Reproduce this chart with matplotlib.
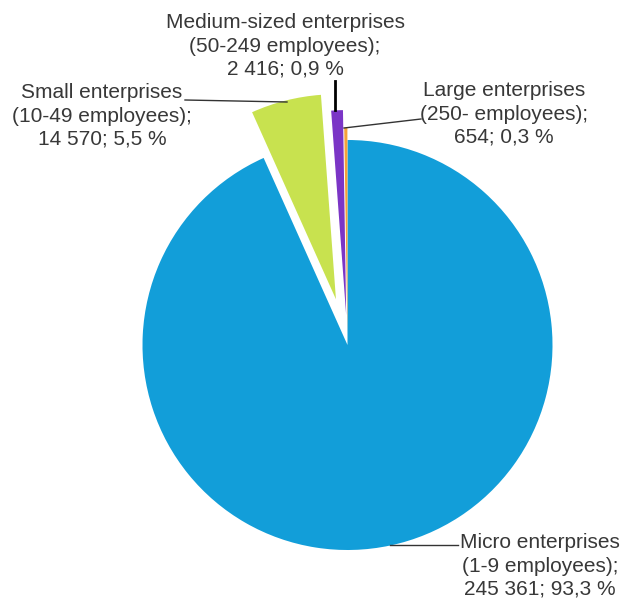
import matplotlib.pyplot as plt

plt.rcParams['font.family'] = ['Liberation Sans', 'DejaVu Sans']

# enterprises by size class
labels = ['Micro enterprises\n(1-9 employees);\n245 361; 93,3 %',
          'Small enterprises\n(10-49 employees);\n14 570; 5,5 %',
          'Medium-sized enterprises\n(50-249 employees);\n2 416; 0,9 %',
          'Large enterprises\n(250- employees);\n654; 0,3 %']
values = [245361, 14570, 2416, 654]
colors = ['#129ed9', '#c8e24f', '#7b35c6', '#f6a23a']
explode = [0, 0.23, 0.146, 0.06]

fig = plt.figure(figsize=(6.20, 5.99), dpi=100)
ax = fig.add_axes([0, 0, 1, 1])

# pixel coordinates from the top, flipped for the axes
H = 599
cx, cy, r = 347.5, H - 345, 205

# pie() offsets exploded wedges in data units, so scale by the radius
ax.pie(values, colors=colors, explode=[e * r for e in explode], startangle=90,
       counterclock=False, center=(cx, cy), radius=r,
       wedgeprops={'linewidth': 0})

# pie() sets its own limits, so set them afterwards
ax.set_xlim(0, 620)
ax.set_ylim(0, 599)
ax.set_aspect('equal')
ax.axis('off')

txt = '#383838'
fs = 15

# label positions (x, y from top)
label_pos = [(540, 566), (102, 116), (285, 46), (504, 114)]
for lab, (x, y) in zip(labels, label_pos):
    ax.text(x, H - y, lab, ha='center', va='center', fontsize=fs,
            color=txt, linespacing=1.28)

# leader lines
ax.plot([390, 458], [H - 545, H - 545], color='#333333', lw=1)
ax.plot([185, 287], [H - 100, H - 102], color='#333333', lw=1)
ax.plot([335, 335], [H - 81, H - 110], color='black', lw=2)
ax.plot([344, 421], [H - 128, H - 119], color='#333333', lw=1)

fig.savefig('out.png', dpi=100)
